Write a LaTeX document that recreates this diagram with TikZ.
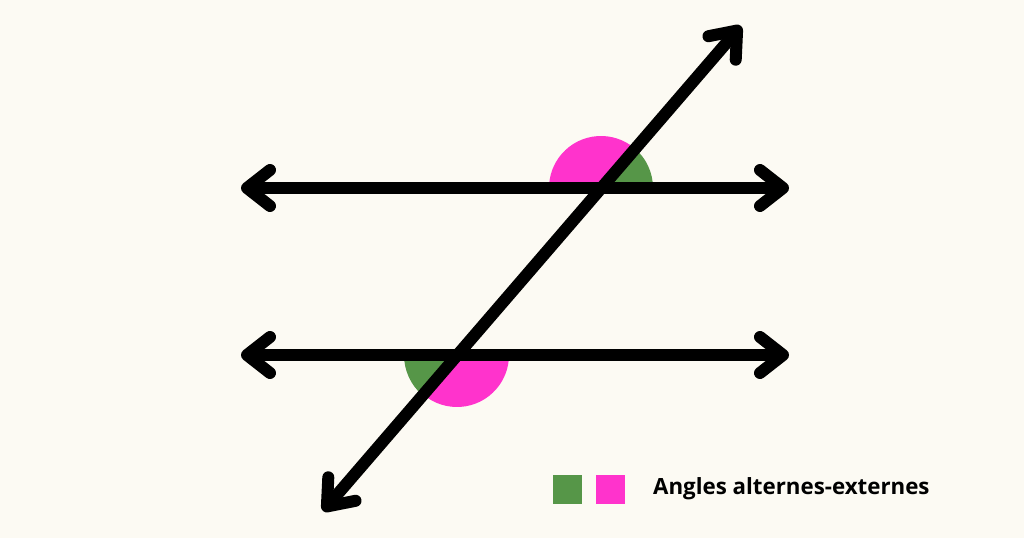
\documentclass[tikz,border=0pt]{standalone}
\usepackage{fontspec}
\usetikzlibrary{arrows.meta}
\newfontfamily\legendfont{Open Sans}
\definecolor{bgcream}{RGB}{252,250,243}
\definecolor{anggreen}{RGB}{86,150,72}
\definecolor{angpink}{RGB}{255,51,204}

\begin{document}
\begin{tikzpicture}[x=1pt, y=1pt,
  line/.style={line width=12pt, line cap=round, line join=round,
    {Straight Barb[length=23pt, width=36pt, line cap=round, line join=round]}-{Straight Barb[length=23pt, width=36pt, line cap=round, line join=round]}},
  key/.style={draw=none, minimum size=29pt, inner sep=0pt}]
\fill[bgcream] (0,0) rectangle (1024,538);
\useasboundingbox (0,0) rectangle (1024,538);
% end points
\coordinate (L1a) at (241,350);
\coordinate (L1b) at (789,350);
\coordinate (L2a) at (241,183);
\coordinate (L2b) at (789,183);
\coordinate (Ta) at (323,27);
\coordinate (Tb) at (741,512);
\coordinate (X1) at (601,350);
\coordinate (X2) at (457,183);
% angles
\fill[angpink] (X1) -- ++(49.2:52) arc (49.2:180:52) -- cycle;
\fill[anggreen] (X1) -- ++(0:52) arc (0:49.2:52) -- cycle;
\fill[anggreen] (X2) -- ++(180:53) arc (180:229.2:53) -- cycle;
\fill[angpink] (X2) -- ++(229.2:52) arc (229.2:360:52) -- cycle;
% lines
\draw[line] (L1a) -- (L1b);
\draw[line] (L2a) -- (L2b);
\draw[line] (Ta) -- (Tb);
% legend
\node[key, fill=anggreen] (kg) at (567.5,49) {};
\node[key, fill=angpink] (kp) at (610,49) {};
\node[anchor=west, inner sep=0pt] (lab) at (653,49)
  {\legendfont\bfseries\fontsize{22.3}{26}\selectfont Angles alternes-externes};
\end{tikzpicture}
\end{document}
